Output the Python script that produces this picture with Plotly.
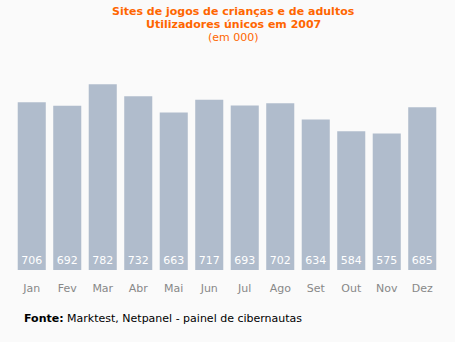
import plotly.graph_objects as go

months = ["Jan", "Fev", "Mar", "Abr", "Mai", "Jun", "Jul", "Ago", "Set", "Out", "Nov", "Dez"]
values = [706, 692, 782, 732, 663, 717, 693, 702, 634, 584, 575, 685]

W, H = 455, 342
ml, mr, mt, mb = 14, 15, 80, 72
pw = W - ml - mr

title_lines = [
    ("<b>Sites de jogos de crianças e de adultos</b>", 11),
    ("<b>Utilizadores únicos em 2007</b>", 24),
    ("(em 000)", 37.5),
]

fig = go.Figure(go.Bar(
    x=months, y=values,
    marker=dict(color="#B0BCCC", line=dict(width=0)),
    text=[str(v) for v in values],
    textposition="inside", insidetextanchor="start",
    textfont=dict(color="white", size=11, family="DejaVu Sans"),
    textangle=0,
    hoverinfo="skip",
))

annotations = []
for txt, yc in title_lines:
    annotations.append(dict(
        xref="paper", yref="paper", x=(233 - ml) / pw, y=1,
        yshift=(mt - yc), yanchor="middle", xanchor="center", showarrow=False,
        text=txt, font=dict(color="#FF6600", size=11, family="DejaVu Sans")))
annotations.append(dict(
    xref="paper", yref="paper", x=(22 - ml) / pw, xanchor="left",
    y=0, yshift=-(318 - 270), yanchor="middle", showarrow=False,
    text="<b>Fonte:</b> Marktest, Netpanel - painel de cibernautas",
    font=dict(color="black", size=11, family="DejaVu Sans")))

fig.update_layout(
    width=W, height=H,
    margin=dict(l=ml, r=mr, t=mt, b=mb),
    paper_bgcolor="#FAFAFA", plot_bgcolor="#FAFAFA",
    bargap=0.21,
    showlegend=False,
    font=dict(family="DejaVu Sans", size=11),
    xaxis=dict(showgrid=False, zeroline=False, showline=False,
               ticks="outside", ticklen=8, tickcolor="rgba(0,0,0,0)",
               tickfont=dict(color="#888888", size=11, family="DejaVu Sans")),
    yaxis=dict(range=[0, 800], visible=False, fixedrange=True),
    annotations=annotations,
)

fig.write_html("out.html")
